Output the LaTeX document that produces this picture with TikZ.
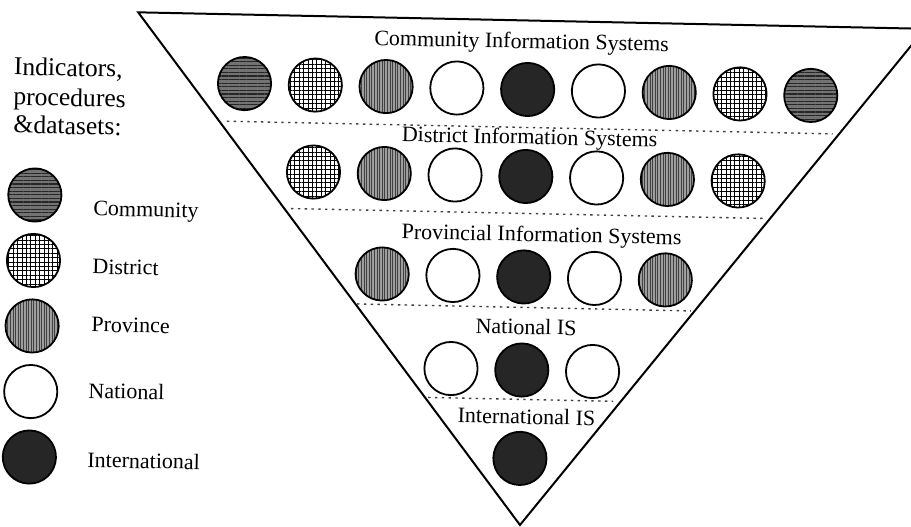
\documentclass[tikz,border=0pt]{standalone}
\usepackage{fontspec}
\setmainfont{Liberation Serif}
\usetikzlibrary{patterns.meta}
\begin{document}
\begin{tikzpicture}[x=0.5pt,y=-0.5pt,
  disc/.style={circle, draw=black, line width=0.9pt, minimum size=26.6pt, inner sep=0pt},
  comm/.style={disc, preaction={fill=black!55}, pattern={Lines[angle=0,distance=1.8pt,line width=0.55pt]}, pattern color=black!85},
  dist/.style={disc, preaction={fill=white}, pattern={Hatch[distance=2.2pt,line width=0.45pt]}, pattern color=black},
  prov/.style={disc, preaction={fill=black!38}, pattern={Lines[angle=90,distance=1.3pt,line width=0.35pt]}, pattern color=black!75},
  nat/.style={disc, fill=white},
  intl/.style={disc, fill=black!85},
  level/.style={font=\fontsize{11}{13}\selectfont, anchor=base, inner sep=0pt},
  keytext/.style={font=\fontsize{11}{13}\selectfont, anchor=base west, inner sep=0pt},
  heading/.style={font=\fontsize{12.8}{14.5}\selectfont, anchor=base west, inner sep=0pt},
  divider/.style={draw=black!75, line width=0.7pt, dash pattern=on 1.2pt off 2.2pt},
  edge/.style={draw=black, line width=1pt, line join=miter}
]
\useasboundingbox (0,0) rectangle (911,526);
\clip (0,0) rectangle (911,526);
\fill[white] (0,0) rectangle (911,526);

\begin{scope}[rotate around={-1.2:(455,263)}, transform shape]
  % inverted pyramid
  \coordinate (tl) at (133,19);
  \coordinate (tr) at (920,19);
  \coordinate (bt) at (525.5,523.6);
  \draw[edge] (tl) -- (tr) -- (bt) -- cycle;

  % dotted dividers between the levels
  \coordinate (d1a) at (224,126); \coordinate (d1b) at (830,126);
  \coordinate (d2a) at (290,212); \coordinate (d2b) at (765,212);
  \coordinate (d3a) at (358,306); \coordinate (d3b) at (692,306);
  \coordinate (d4a) at (431,398); \coordinate (d4b) at (616,398);
  \draw[divider] (d1a) -- (d1b);
  \draw[divider] (d2a) -- (d2b);
  \draw[divider] (d3a) -- (d3b);
  \draw[divider] (d4a) -- (d4b);

  % level titles
  \node[level] (t1) at (517,46.9) {Community Information Systems};
  \node[level] (t2) at (527,142.7) {District Information Systems};
  \node[level] (t3) at (541,239.9) {Provincial Information Systems};
  \node[level] (t4) at (527.4,332.8) {National IS};
  \node[level] (t5) at (529.7,422.5) {International IS};

  % discs of each level
  \foreach \s [count=\i] in {comm,dist,prov,nat,intl,nat,prov,dist,comm}
    \node[\s] (ra\i) at ({524+(\i-5)*70.8},88) {};
  \foreach \s [count=\i] in {dist,prov,nat,intl,nat,prov,dist}
    \node[\s] (rb\i) at ({524+(\i-4)*70.8},175) {};
  \foreach \s [count=\i] in {prov,nat,intl,nat,prov}
    \node[\s] (rc\i) at ({524+(\i-3)*70.8},275.5) {};
  \foreach \s [count=\i] in {nat,intl,nat}
    \node[\s] (rd\i) at ({524+(\i-2)*70.8},368.6) {};
  \node[intl] (re1) at (524,457) {};

  % key
  \node[heading] (h1) at (9.5,84.2) {Indicators,};
  \node[heading] (h2) at (9.7,114.2) {procedures};
  \node[heading] (h3) at (10.3,142.2) {\&datasets:};

  \node[comm] (k1) at (33.5,203.8) {};
  \node[dist] (k2) at (33.5,269.3) {};
  \node[prov] (k3) at (33.5,334.8) {};
  \node[nat]  (k4) at (33.5,400.4) {};
  \node[intl] (k5) at (33.5,465.9) {};

  \node[keytext] (l1) at (92,223.2) {Community};
  \node[keytext] (l2) at (92.3,281.5) {District};
  \node[keytext] (l3) at (92.5,339.2) {Province};
  \node[keytext] (l4) at (90.9,405.8) {National};
  \node[keytext] (l5) at (91.3,474.8) {International};
\end{scope}
\end{tikzpicture}
\end{document}
